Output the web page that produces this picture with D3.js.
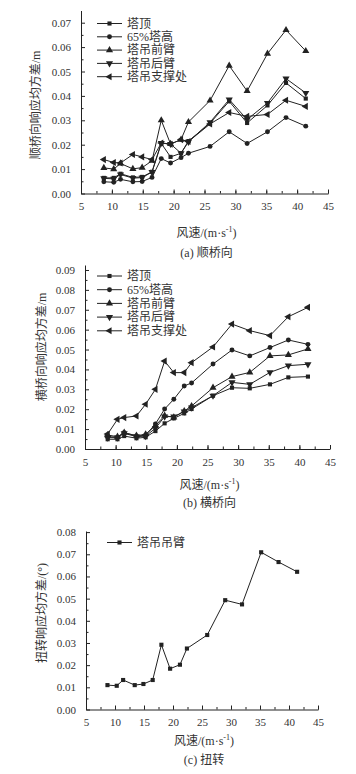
<!DOCTYPE html>
<html>
<head>
    <meta charset="utf-8">
    <title>风速-响应均方差</title>
    <script src="https://d3js.org/d3.v7.min.js"></script>
    <style>
        body {
            margin: 0;
            background: #fff;
        }

        svg text {
            font-family: "Liberation Serif", "Noto Sans CJK SC", serif;
            fill: #333;
        }

        .axis path,
        .axis line {
            stroke: #222;
            stroke-width: 1;
        }

        .axis text {
            font-size: 11px;
        }

        .series {
            fill: none;
            stroke: #222;
            stroke-width: 1;
        }

        .marker {
            fill: #222;
        }

        .title {
            font-size: 12px;
        }
    </style>
</head>
<body>
    <div id="chart"></div>

    <script>
        // wind speed (m/s), shared by all three panels
        const windSpeed = [8.7, 10.3, 11.4, 13.4, 14.9, 16.5, 18.0, 19.5, 21.2, 22.4, 25.9, 29.0, 31.9, 35.2, 38.2, 41.4];

        const seriesNames = ["塔顶", "65%塔高", "塔吊前臂", "塔吊后臂", "塔吊支撑处"];
        const seriesSymbols = ["square", "circle", "up", "down", "left"];

        // (a) along-bridge
        const alongTop    = [0.0064, 0.0064, 0.0081, 0.0066, 0.0068, 0.0089, 0.0205, 0.0150, 0.0165, 0.0215, 0.0288, 0.0378, 0.0289, 0.0361, 0.0453, 0.0389];
        const alongMid    = [0.0048, 0.0046, 0.0058, 0.0048, 0.0049, 0.0066, 0.0143, 0.0125, 0.0147, 0.0165, 0.0193, 0.0253, 0.0205, 0.0253, 0.0311, 0.0276];
        const alongFront  = [0.0105, 0.0100, 0.0123, 0.0101, 0.0106, 0.0134, 0.0300, 0.0203, 0.0221, 0.0293, 0.0381, 0.0524, 0.0420, 0.0573, 0.0670, 0.0584];
        const alongBack   = [0.0062, 0.0060, 0.0078, 0.0063, 0.0065, 0.0088, 0.0207, 0.0203, 0.0165, 0.0212, 0.0292, 0.0385, 0.0303, 0.0371, 0.0471, 0.0412];
        const alongSupport = [0.0139, 0.0127, 0.0125, 0.0160, 0.0150, 0.0139, 0.0207, 0.0202, 0.0221, 0.0213, 0.0285, 0.0332, 0.0316, 0.0324, 0.0382, 0.0357];

        // (b) cross-bridge
        const crossTop    = [0.0049, 0.0049, 0.0065, 0.0054, 0.0059, 0.0090, 0.0129, 0.0154, 0.0179, 0.0201, 0.0268, 0.0308, 0.0305, 0.0325, 0.0360, 0.0364];
        const crossMid    = [0.0062, 0.0059, 0.0082, 0.0065, 0.0069, 0.0126, 0.0201, 0.0250, 0.0317, 0.0332, 0.0427, 0.0498, 0.0468, 0.0510, 0.0548, 0.0526];
        const crossFront  = [0.0070, 0.0062, 0.0082, 0.0067, 0.0074, 0.0117, 0.0168, 0.0159, 0.0191, 0.0216, 0.0308, 0.0364, 0.0385, 0.0468, 0.0473, 0.0503];
        const crossBack   = [0.0057, 0.0057, 0.0079, 0.0062, 0.0065, 0.0104, 0.0163, 0.0163, 0.0188, 0.0208, 0.0268, 0.0335, 0.0325, 0.0385, 0.0419, 0.0426];
        const crossSupport = [0.0075, 0.0149, 0.0158, 0.0166, 0.0225, 0.0300, 0.0442, 0.0384, 0.0384, 0.0434, 0.0513, 0.0628, 0.0595, 0.0570, 0.0665, 0.0712];

        // (c) torsion
        const torsionArm = [0.0110, 0.0107, 0.0133, 0.0110, 0.0115, 0.0133, 0.0292, 0.0184, 0.0202, 0.0275, 0.0336, 0.0493, 0.0474, 0.0709, 0.0665, 0.0621];

        const xTicks = [5, 10, 15, 20, 25, 30, 35, 40, 45];

        const panels = [
            {
                left: 81, right: 328, bottom: 193.5, top: 10.5, yMax: 0.075,
                yTicks: [0, 0.01, 0.02, 0.03, 0.04, 0.05, 0.06, 0.07],
                series: [alongTop, alongMid, alongFront, alongBack, alongSupport],
                names: seriesNames, symbols: seriesSymbols,
                yTitle: "顺桥向响应均方差/m", yTitleX: 36, yTitleY: 105,
                legendX: 97, legendY: 23.5, legendStep: 13.3,
                xTitleY: 237, caption: "(a) 顺桥向", captionY: 257
            },
            {
                left: 85, right: 330, bottom: 449, top: 265, yMax: 0.0925,
                yTicks: [0, 0.01, 0.02, 0.03, 0.04, 0.05, 0.06, 0.07, 0.08, 0.09],
                series: [crossTop, crossMid, crossFront, crossBack, crossSupport],
                names: seriesNames, symbols: seriesSymbols,
                yTitle: "横桥向响应均方差/m", yTitleX: 42, yTitleY: 347,
                legendX: 97, legendY: 276, legendStep: 13.7,
                xTitleY: 489, caption: "(b) 横桥向", captionY: 507
            },
            {
                left: 86, right: 318, bottom: 709.5, top: 531, yMax: 0.0805,
                yTicks: [0, 0.01, 0.02, 0.03, 0.04, 0.05, 0.06, 0.07, 0.08],
                series: [torsionArm],
                names: ["塔吊吊臂"], symbols: ["square"],
                yTitle: "扭转响应均方差/(°)", yTitleX: 42, yTitleY: 613,
                legendX: 107, legendY: 542.5, legendStep: 13.7,
                xTitleY: 745, caption: "(c) 扭转", captionY: 764
            }
        ];

        const svg = d3.select("#chart").append("svg")
            .attr("width", 356)
            .attr("height", 774);

        function markerPath(kind) {
            const sym = {
                square: d3.symbolSquare,
                circle: d3.symbolCircle,
                up: d3.symbolTriangle,
                down: d3.symbolTriangle,
                left: d3.symbolTriangle
            }[kind];
            const size = kind === "square" ? 17 : kind === "circle" ? 19 : 22;
            return d3.symbol().type(sym).size(size)();
        }

        function markerRotate(kind) {
            if (kind === "down") return 180;
            if (kind === "left") return -90;
            return 0;
        }

        panels.forEach(function(p) {
            const g = svg.append("g");

            const x = d3.scaleLinear().domain([5, 45]).range([p.left, p.right]);
            const y = d3.scaleLinear().domain([0, p.yMax]).range([p.bottom, p.top]);

            // minor ticks
            g.append("g")
                .attr("class", "axis")
                .attr("transform", `translate(0,${p.bottom})`)
                .call(d3.axisBottom(x).tickValues(d3.range(5, 45.1, 2.5)).tickSizeInner(-2.5).tickSizeOuter(0).tickFormat(""))
                .call(a => a.select(".domain").remove());
            g.append("g")
                .attr("class", "axis")
                .attr("transform", `translate(${p.left},0)`)
                .call(d3.axisLeft(y).tickValues(d3.range(0.005, p.yMax, 0.01)).tickSizeInner(-2.5).tickSizeOuter(0).tickFormat(""))
                .call(a => a.select(".domain").remove());

            // major ticks
            g.append("g")
                .attr("class", "axis")
                .attr("transform", `translate(0,${p.bottom})`)
                .call(d3.axisBottom(x).tickValues(xTicks).tickSizeInner(-4).tickSizeOuter(0).tickPadding(9).tickFormat(d3.format("d")));
            g.append("g")
                .attr("class", "axis")
                .attr("transform", `translate(${p.left},0)`)
                .call(d3.axisLeft(y).tickValues(p.yTicks).tickSizeInner(-4).tickSizeOuter(0).tickPadding(10).tickFormat(d3.format(".2f")));

            const line = d3.line()
                .x((d, i) => x(windSpeed[i]))
                .y(d => y(d));

            p.series.forEach(function(values, s) {
                g.append("path")
                    .datum(values)
                    .attr("class", "series")
                    .attr("d", line);

                g.selectAll(null)
                    .data(values)
                    .enter()
                    .append("path")
                    .attr("class", "marker")
                    .attr("d", markerPath(p.symbols[s]))
                    .attr("transform", (d, i) => `translate(${x(windSpeed[i])},${y(d)}) rotate(${markerRotate(p.symbols[s])})`);
            });

            // legend
            const legend = g.append("g");
            p.names.forEach(function(name, s) {
                const ly = p.legendY + s * p.legendStep;
                legend.append("line")
                    .attr("x1", p.legendX).attr("x2", p.legendX + 25)
                    .attr("y1", ly).attr("y2", ly)
                    .attr("stroke", "#222");
                legend.append("path")
                    .attr("class", "marker")
                    .attr("d", markerPath(p.symbols[s]))
                    .attr("transform", `translate(${p.legendX + 12.5},${ly}) rotate(${markerRotate(p.symbols[s])})`);
                legend.append("text")
                    .attr("class", "title")
                    .attr("x", p.legendX + 30)
                    .attr("y", ly)
                    .attr("dy", "0.35em")
                    .text(name);
            });

            // y axis title
            g.append("text")
                .attr("class", "title")
                .attr("text-anchor", "middle")
                .attr("transform", `translate(${p.yTitleX},${p.yTitleY}) rotate(-90)`)
                .attr("dy", "0.35em")
                .text(p.yTitle);

            // x axis title with superscript
            const xt = g.append("text")
                .attr("class", "title")
                .attr("text-anchor", "middle")
                .attr("x", (p.left + p.right) / 2 + 2)
                .attr("y", p.xTitleY);
            xt.append("tspan").text("风速/(m·s");
            xt.append("tspan").attr("font-size", "8px").attr("dy", "-5").text("-1");
            xt.append("tspan").attr("dy", "5").text(")");

            g.append("text")
                .attr("class", "title")
                .attr("text-anchor", "middle")
                .attr("x", (p.left + p.right) / 2 + 2)
                .attr("y", p.captionY)
                .text(p.caption);
        });
    </script>
</body>
</html>
